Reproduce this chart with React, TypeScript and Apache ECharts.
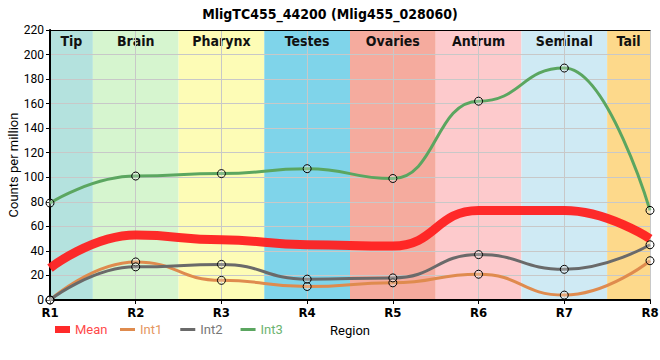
import React, { useEffect, useRef } from "react";
import * as echarts from "echarts";

const regions = ["R1", "R2", "R3", "R4", "R5", "R6", "R7", "R8"];
const meanValues = [26, 53, 49, 45, 44, 73, 73, 50];
const int1Values = [0, 31, 16, 11, 14, 21, 4, 32];
const int2Values = [0, 27, 29, 17, 18, 37, 25, 45];
const int3Values = [79, 101, 103, 107, 99, 162, 189, 73];
const bandNames = ["Tip", "Brain", "Pharynx", "Testes", "Ovaries", "Antrum", "Seminal", "Tail"];
const bandStarts = [0, 0.5, 1.5, 2.5, 3.5, 4.5, 5.5, 6.5];
const bandEnds = [0.5, 1.5, 2.5, 3.5, 4.5, 5.5, 6.5, 7];
const bandColors = ["#b4e2de", "#d6f5cf", "#fdfcb6", "#7fd4ea", "#f5ab9e", "#fdcacc", "#cfeaf4", "#fdd98b"];

const NARROW = '"Liberation Sans Narrow", "DejaVu Sans Condensed", Roboto, sans-serif';
const SANS = 'Roboto, "Liberation Sans", sans-serif';

const pairs = (vals: number[]) => vals.map((v, i) => [i, v]);

export default function App() {
  const ref = useRef<HTMLDivElement>(null);
  useEffect(() => {
    if (!ref.current) return;
    const chart = echarts.init(ref.current, null, { renderer: "svg" });
    const lineSeries = (name: string, vals: number[], color: string) => ({
      name,
      type: "line",
      data: pairs(vals),
      smooth: 0.5,
      smoothMonotone: "x",
      z: 4,
      symbol: "circle",
      symbolSize: 8,
      showSymbol: true,
      lineStyle: { color, width: 3 },
      itemStyle: { color: "rgba(255,255,255,0.25)", borderColor: "#000", borderWidth: 1 },
      emphasis: { disabled: true },
    });
    const legendItem = (name: string, color: string, textColor: string) => ({
      name,
      icon: "rect",
      itemStyle: { color, borderWidth: 0, opacity: 1 },
      lineStyle: { width: 0 },
      textStyle: { color: textColor },
    });
    chart.setOption({
      animation: false,
      title: {
        text: "MligTC455_44200 (Mlig455_028060)",
        left: "center",
        top: 2,
        textStyle: { fontFamily: NARROW, fontSize: 14, fontWeight: "bold", color: "#000" },
      },
      grid: { left: 50, right: 10, top: 30, bottom: 60, outerBoundsMode: "none", containLabel: false },
      legend: [
        {
          data: [legendItem("Mean", "#ff2a2a", "#ff4a4a")],
          left: 55,
          top: 323,
          padding: 0,
          itemWidth: 15,
          itemHeight: 7,
          textStyle: { fontFamily: SANS, fontSize: 13 },
        },
        {
          data: [
            legendItem("Int1", "#df8b4e", "#e59660"),
            legendItem("Int2", "#6a6a6a", "#777777"),
            legendItem("Int3", "#5ba660", "#6cb470"),
          ],
          left: 120,
          top: 323,
          padding: 0,
          itemWidth: 15,
          itemHeight: 3,
          itemGap: 18,
          textStyle: { fontFamily: SANS, fontSize: 13 },
        },
      ],
      xAxis: [
        {
          type: "value",
          min: 0,
          max: 7,
          interval: 1,
          z: 3,
          name: "Region",
          nameLocation: "middle",
          nameGap: 24,
          nameMoveOverlap: false,
          nameTextStyle: { fontFamily: SANS, fontSize: 13, color: "#000" },
          axisLine: { show: true, onZero: false, lineStyle: { color: "#000", width: 2 } },
          axisTick: { show: true, length: 4, lineStyle: { color: "#000" } },
          axisLabel: {
            formatter: (v: number) => regions[v] ?? "",
            fontFamily: NARROW,
            fontWeight: "bold",
            fontSize: 13,
            color: "#000",
            margin: 6,
          },
          splitLine: { show: true, lineStyle: { color: "#c8c8c8", width: 1 } },
        },
        {
          type: "value",
          position: "top",
          min: 0,
          max: 7,
          z: 3,
          axisLine: { show: true, onZero: false, lineStyle: { color: "#000", width: 1 } },
          axisTick: { show: false },
          axisLabel: { show: false },
          splitLine: { show: false },
        },
      ],
      yAxis: [
        {
          type: "value",
          min: 0,
          max: 220,
          interval: 20,
          z: 3,
          name: "Counts per million",
          nameLocation: "middle",
          nameGap: 30,
          nameMoveOverlap: false,
          nameTextStyle: { fontFamily: SANS, fontSize: 13, color: "#000" },
          axisLine: { show: true, lineStyle: { color: "#000", width: 2 } },
          axisTick: { show: true, length: 4, lineStyle: { color: "#000" } },
          axisLabel: { fontFamily: SANS, fontSize: 12, color: "#000", margin: 6 },
          splitLine: { show: true, lineStyle: { color: "#c8c8c8", width: 1 } },
        },
        {
          type: "value",
          position: "right",
          min: 0,
          max: 220,
          z: 3,
          axisLine: { show: true, lineStyle: { color: "#000", width: 1 } },
          axisTick: { show: false },
          axisLabel: { show: false },
          splitLine: { show: false },
        },
      ],
      series: [
        {
          name: "bands",
          type: "line",
          data: [[0, 0]],
          z: 1,
          showSymbol: false,
          lineStyle: { opacity: 0 },
          silent: true,
          markArea: {
            silent: true,
            data: bandNames.map((n, i) => [
              {
                name: n,
                xAxis: bandStarts[i],
                itemStyle: { color: bandColors[i] },
              },
              { xAxis: bandEnds[i] },
            ]),
            label: {
              show: true,
              position: "insideTop",
              distance: 4,
              fontFamily: NARROW,
              fontWeight: "bold",
              fontSize: 14,
              color: "#111",
            },
          },
        },
        {
          name: "Mean",
          type: "line",
          data: pairs(meanValues),
          smooth: 0.5,
          smoothMonotone: "x",
          showSymbol: false,
          z: 4,
          lineStyle: { color: "#ff2020", width: 9, opacity: 0.95 },
          itemStyle: { color: "#ff2a2a" },
          emphasis: { disabled: true },
        },
        lineSeries("Int1", int1Values, "#df8b4e"),
        lineSeries("Int2", int2Values, "#6a6a6a"),
        lineSeries("Int3", int3Values, "#5ba660"),
      ],
    });
    return () => chart.dispose();
  }, []);
  return <div ref={ref} style={{ width: 660, height: 360, position: "absolute", left: 0, top: 0 }} />;
}
